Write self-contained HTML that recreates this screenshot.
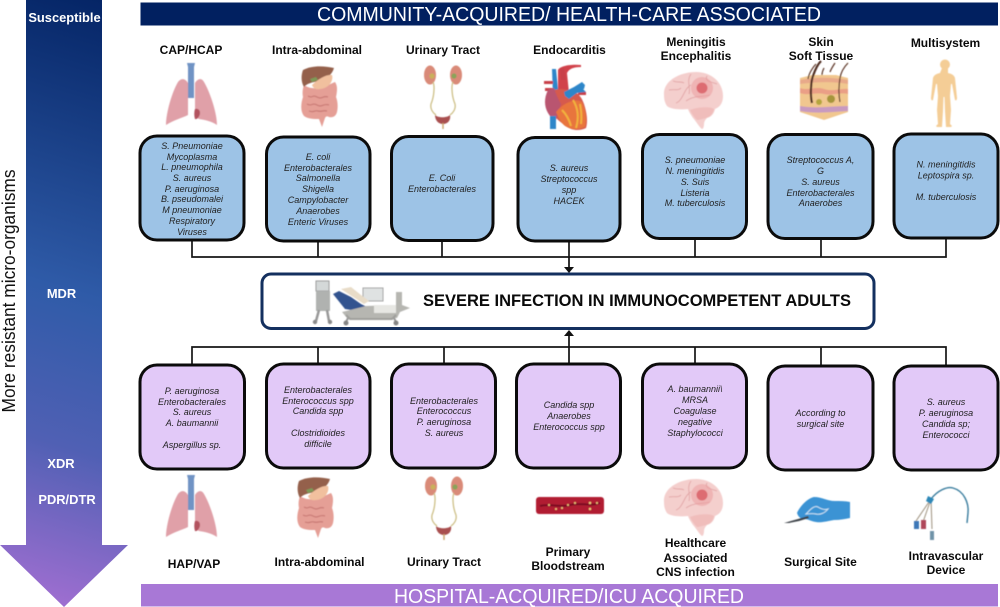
<!DOCTYPE html>
<html><head><meta charset="utf-8"><style>
html,body{margin:0;padding:0;background:#fff;width:1000px;height:607px;overflow:hidden}
svg{display:block}
text{font-family:"Liberation Sans",sans-serif;text-anchor:middle}
.b{font-weight:bold;font-size:12px;fill:#0a0a0a}
.l{font-weight:bold;font-size:12.9px;fill:#fff}
.i{font-style:italic;font-size:9px;fill:#222}
.box{stroke:#0b0b0b;stroke-width:3}
.blue{fill:#9dc3e6}.pur{fill:#e2c9f8}
.ln{stroke:#151515;stroke-width:1.7;fill:none}
</style></head><body>
<svg width="1000" height="607" viewBox="0 0 1000 607" xmlns="http://www.w3.org/2000/svg">
<defs>
<linearGradient id="g" gradientUnits="userSpaceOnUse" x1="190" y1="0" x2="10" y2="600">
<stop offset="0" stop-color="#012060"/><stop offset=".5" stop-color="#2f5ba8"/><stop offset=".74" stop-color="#5060b4"/><stop offset="1" stop-color="#a36fd2"/>
</linearGradient>
<filter id="s" x="-10%" y="-10%" width="120%" height="120%"><feGaussianBlur stdDeviation="0.45"/></filter>
<g id="lungs">
<path d="M-3 -25V-40C-6 -45-10 -45-13 -41C-19 -31-25 -10-25 2C-17 -3-9 -5-3 -8Z" fill="#e0a0a8"/>
<path d="M4 -25V-40C7 -45 11 -45 13 -41C19 -31 26 -10 26 2C20 -2 14 -3 8 -4C4 -6 3 -9 4 -14Z" fill="#e0a0a8"/>
<path d="M-4 -60h8l-1 4v31h-6v-31z" fill="#6f93c4"/>
<path d="M4 -14c3-1 5 1 5 4s-3 7-5 6c-1-3-1-7 0-10z" fill="#b2525f"/>
</g>
<g id="gut">
<path d="M304 85C314 92 326 86 335 82C338 86 337 92 336 97C338 102 338 108 337 112C336 116 333 118 329 117C327 116 326 116 325 118L322 127L319 119C314 119 308 119 304 116C300 111 301 103 303 97C302 92 303 88 304 85Z" fill="#e59f96"/>
<path d="M308 96c5 3 4-2 9 1s6-2 11 0M307 104c5 3 5-2 10 1s6-2 12 0M309 111c5 2 5-1 9 0s5-1 9 0" stroke="#c97a75" fill="none" stroke-width="1.200"/>
<path d="M303 70C312 65 325 66 334 68C332 75 326 79 320 81C312 82 306 84 304 87C301 82 301 75 303 70Z" fill="#94604c"/>
<path d="M312 85C318 79 327 74 332 75C334 82 327 89 320 89C316 90 313 88 312 85Z" fill="#f1c09e"/>
<path d="M310 79l6-2 2 3-6 2z" fill="#7d9a58"/>
</g>
<g id="kid">
<ellipse cx="-13" cy="-40" rx="6" ry="9.500" fill="#d98a78"/><ellipse cx="13" cy="-40" rx="6" ry="9.500" fill="#d98a78"/>
<circle cx="-11" cy="-39" r="2.600" fill="#c9b15c"/><circle cx="11" cy="-39" r="2.600" fill="#8aa35a"/>
<path d="M-10 -33c2 4 1 15-2 22-1 5 2 9 5 11M10 -33c-2 4-1 15 2 22 1 5-2 9-5 11" fill="none" stroke="#cdbf86" stroke-width="1.300"/>
<path d="M-8 0c3 3 12 3 15 0 1 5-2 9-7 9s-8-4-8-9z" fill="#a9504f"/><rect x="-.7" y="8" width="1.400" height="6" fill="#c9a36a"/>
</g>
<g id="brain">
<path d="M-29 -7C-30 -22-12 -30 3 -30c15 0 27 10 27 24 0 7-3 11-8 13-1 5-4 8-8 9-2 2-3 4-3 6 0 3-1 5-2 5-3-2-6-8-9-11-2-3-4-6-5-9-8 1-18 0-21-3-2-3-3-6-3-11z" fill="#f4cfcd"/>
<path d="M-17 1c7-2 8-15 15-18M-7 -1c8-6 18-4 24-6M-2 -28c-5 7 0 14-2 20M-24 -12c6-1 9 1 12-2M-20 -21c5 2 8 0 11 2M14 -26c-3 5 4 6 10 8" stroke="#e2a5a6" fill="none" stroke-width=".9"/>
<path d="M-3 8c7-3 20-4 24-1-1 5-4 8-8 9-4 1-7 2-9 2-3-3-5-6-7-10z" fill="#f0bdbb"/>
<circle cx="9" cy="-14" r="11" fill="#ea9a9c" opacity=".5"/><circle cx="9" cy="-14" r="5.500" fill="#d7545c" opacity=".75"/>
</g>
</defs>

<!-- resistance arrow -->
<path d="M26 0H102V545H128L64 607L0 545H26Z" fill="url(#g)"/>
<text class="l" x="64.500" y="22">Susceptible</text>
<text class="l" x="61.500" y="298">MDR</text>
<text class="l" x="61" y="468">XDR</text>
<text class="l" x="67" y="504">PDR/DTR</text>
<text transform="translate(15,291) rotate(-90)" font-size="18" fill="#111" textLength="243" lengthAdjust="spacingAndGlyphs">More resistant micro-organisms</text>

<!-- banners -->
<rect x="140.500" y="2.500" width="857.500" height="23" fill="#012060"/>
<text x="569" y="21" font-size="20" fill="#fff" textLength="504" lengthAdjust="spacingAndGlyphs">COMMUNITY-ACQUIRED/ HEALTH-CARE ASSOCIATED</text>
<rect x="141" y="584" width="857" height="22.500" fill="#a878d6"/>
<text x="569" y="603" font-size="20" fill="#fff" textLength="350" lengthAdjust="spacingAndGlyphs">HOSPITAL-ACQUIRED/ICU ACQUIRED</text>

<!-- connectors top -->
<path class="ln" d="M192 241V257H946V239M318 241V257M442 241V257M569 241V257M695 239V257M821 239V257"/>
<path d="M569 257V268" stroke="#111" stroke-width="1.700"/><path d="M564 267h10l-5 6z" fill="#111"/>
<!-- connectors bottom -->
<path class="ln" d="M192 364V347H946V366M318 364V347M444 364V347M695 364V347M821 366V347"/>
<path d="M569 363V335" stroke="#111" stroke-width="1.700"/><path d="M564 336h10l-5 -6z" fill="#111"/>

<!-- centre box -->
<rect x="262" y="274" width="612" height="54.500" rx="9" fill="#fff" stroke="#14305f" stroke-width="3"/>
<text x="637" y="306" font-size="16.500" font-weight="bold" fill="#0a0a0a" textLength="428" lengthAdjust="spacingAndGlyphs">SEVERE INFECTION IN IMMUNOCOMPETENT ADULTS</text>
<!-- ICU bed -->
<g filter="url(#s)">
<rect x="316" y="281" width="13" height="10" fill="#d4d8d8" stroke="#9a9a9a" stroke-width="1"/>
<rect x="316" y="291" width="14" height="20" fill="#b0b2b0"/>
<path d="M319 310l-3 11M327 310l2 11" stroke="#999" stroke-width="2.500"/>
<circle cx="315" cy="322" r="2.200" fill="#8b8b8b"/><circle cx="330" cy="322" r="2.200" fill="#8b8b8b"/>
<rect x="363" y="288" width="20" height="13" fill="#dfe2e2" stroke="#a5a5a5"/>
<path d="M333 294l6-3 12 6 10 7 6 3-10 4-12-2z" fill="#33538f"/>
<path d="M341 289l10-2 10 8 8 6-5 3-14-9z" fill="#e8dcc8"/>
<path d="M342 312l24-6 30-1v-13h6v13l8 3-10 4-3 6h-50z" fill="#b6b6b1"/>
<rect x="374" y="305" width="22" height="8" fill="#e7e7e3"/>
<path d="M346 315l4 4h42l4-4" stroke="#9f9f9b" stroke-width="2" fill="none"/>
<path d="M348 318l-2 4M394 318l2 4" stroke="#999" stroke-width="2"/>
<circle cx="346" cy="323" r="2.500" fill="#858585"/><circle cx="396" cy="323" r="2.500" fill="#858585"/>
</g>

<!-- top boxes -->
<g class="box blue">
<rect x="140" y="136" width="104" height="104" rx="17"/>
<rect x="266.500" y="137" width="103.500" height="104" rx="17"/>
<rect x="391.500" y="136.500" width="101.500" height="104" rx="17"/>
<rect x="518" y="137.500" width="102" height="103.500" rx="17"/>
<rect x="642.500" y="134.500" width="104" height="104" rx="17"/>
<rect x="768" y="134.500" width="105" height="104" rx="17"/>
<rect x="894" y="134" width="104" height="104" rx="17"/>
</g>
<!-- bottom boxes -->
<g class="box pur">
<rect x="140" y="365" width="104.500" height="104" rx="17"/>
<rect x="266.500" y="364" width="103.500" height="104" rx="17"/>
<rect x="391.500" y="364" width="104" height="104" rx="17"/>
<rect x="516.500" y="364" width="104" height="104" rx="17"/>
<rect x="642.500" y="364" width="104" height="104" rx="17"/>
<rect x="768" y="366" width="105" height="104" rx="17"/>
<rect x="894" y="366" width="104" height="104" rx="17"/>
</g>

<!-- top box labels -->
<g class="i">
<text x="192" y="149">S. Pneumoniae</text><text x="192" y="160">Mycoplasma</text><text x="192" y="170">L. pneumophila</text><text x="192" y="181">S. aureus</text><text x="192" y="192">P. aeruginosa</text><text x="192" y="202">B. pseudomalei</text><text x="192" y="213">M pneumoniae</text><text x="192" y="224">Respiratory</text><text x="192" y="235">Viruses</text>
<text x="318" y="160">E. coli</text><text x="318" y="171">Enterobacterales</text><text x="318" y="181">Salmonella</text><text x="318" y="192">Shigella</text><text x="318" y="203">Campylobacter</text><text x="318" y="214">Anaerobes</text><text x="318" y="225">Enteric Viruses</text>
<text x="442" y="181">E. Coli</text><text x="442" y="192">Enterobacterales</text>
<text x="569" y="171">S. aureus</text><text x="569" y="182">Streptococcus</text><text x="569" y="193">spp</text><text x="569" y="204">HACEK</text>
<text x="695" y="163">S. pneumoniae</text><text x="695" y="174">N. meningitidis</text><text x="695" y="185">S. Suis</text><text x="695" y="196">Listeria</text><text x="695" y="206">M. tuberculosis</text>
<text x="820.500" y="163">Streptococcus A,</text><text x="820.500" y="174">G</text><text x="820.500" y="185">S. aureus</text><text x="820.500" y="196">Enterobacterales</text><text x="820.500" y="206">Anaerobes</text>
<text x="946" y="167.500">N. meningitidis</text><text x="946" y="178.500">Leptospira sp.</text><text x="946" y="200">M. tuberculosis</text>
</g>
<!-- bottom box labels -->
<g class="i">
<text x="192" y="394">P. aeruginosa</text><text x="192" y="405">Enterobacterales</text><text x="192" y="415">S. aureus</text><text x="192" y="426">A. baumannii</text><text x="192" y="448">Aspergillus sp.</text>
<text x="318" y="393">Enterobacterales</text><text x="318" y="404">Enterococcus spp</text><text x="318" y="414">Candida spp</text><text x="318" y="436">Clostridioides</text><text x="318" y="447">difficile</text>
<text x="444" y="404">Enterobacterales</text><text x="444" y="414">Enterococcus</text><text x="444" y="425">P. aeruginosa</text><text x="444" y="436">S. aureus</text>
<text x="569" y="408">Candida spp</text><text x="569" y="419">Anaerobes</text><text x="569" y="430">Enterococcus spp</text>
<text x="695" y="392">A. baumannii\</text><text x="695" y="403">MRSA</text><text x="695" y="414">Coagulase</text><text x="695" y="425">negative</text><text x="695" y="436">Staphylococci</text>
<text x="820.500" y="416">According to</text><text x="820.500" y="427">surgical site</text>
<text x="946" y="405">S. aureus</text><text x="946" y="416">P. aeruginosa</text><text x="946" y="427">Candida sp;</text><text x="946" y="438">Enterococci</text>
</g>

<!-- top headings -->
<g class="b">
<text x="191" y="54">CAP/HCAP</text>
<text x="317" y="54">Intra-abdominal</text>
<text x="443" y="54">Urinary Tract</text>
<text x="569.500" y="54">Endocarditis</text>
<text x="696" y="46">Meningitis</text><text x="696" y="60">Encephalitis</text>
<text x="821" y="46">Skin</text><text x="821" y="60">Soft Tissue</text>
<text x="945.500" y="47">Multisystem</text>
</g>
<!-- bottom headings -->
<g class="b">
<text x="194" y="568">HAP/VAP</text>
<text x="319.500" y="566">Intra-abdominal</text>
<text x="444" y="566">Urinary Tract</text>
<text x="568" y="556">Primary</text><text x="568" y="570">Bloodstream</text>
<text x="695.500" y="547">Healthcare</text><text x="695.500" y="562">Associated</text><text x="695.500" y="576">CNS infection</text>
<text x="820.500" y="566">Surgical Site</text>
<text x="946" y="560">Intravascular</text><text x="946" y="574">Device</text>
</g>

<!-- icons -->
<g filter="url(#s)">
<use href="#lungs" transform="translate(191,123)"/>
<use href="#gut"/>
<use href="#kid" transform="translate(443,115)"/>
<use href="#lungs" transform="translate(191,535)"/>
<use href="#gut" transform="translate(-4,411)"/>
<use href="#kid" transform="translate(444,526)"/>
<use href="#brain" transform="translate(693,102)"/>
<use href="#brain" transform="translate(693,509)"/>

<!-- heart -->
<path d="M558 70c2-4 12-6 23-5v2c-8 0-12 2-14 6l2 20-11 2z" fill="#d1434c"/>
<path d="M552 69h4l2 20 1 8h-6z" fill="#2f86c9"/>
<path d="M560 68h4l2 12h-5z" fill="#c8404a"/>
<path d="M544 81h9v3h-9zM545 88h8v3h-8zM578 92h8v3h-8z" fill="#c8404a"/>
<path d="M546 96c4-7 14-8 22-6 10 1 14 8 16 14 3 9 4 18 2 24-6 3-14 3-20-2-8-5-14-12-17-18-2-4-4-8-3-12z" fill="#d65a4e"/>
<path d="M548 90c-4 8-4 16 0 23 3 5 6 8 8 7l5-16c-3-5-5-10-7-16z" fill="#b9546f"/>
<path d="M556 112c8-10 20-14 26-10 4 8 5 18 3 25-7 3-14 3-20-1-4-3-7-9-9-14z" fill="#e8743c"/>
<path d="M573 100c5 8 6 18 3 28M562 110c4 4 7 9 9 16M580 104c1 6 2 12 1 20" stroke="#f2b33d" stroke-width="2" fill="none"/>
<path d="M564 92l10-5 8-5 3 3-1 4h-1l3 3-9 1-8 6-4-3z" fill="#2f86c9"/>
<path d="M550 116h6v13h-6z" fill="#2f86c9"/>

<!-- skin -->
<path d="M800 78l12-3h24l12 3v34l-24 8-24-8z" fill="#f1c78f"/>
<path d="M800 80c16-3 32-3 48 0v4c-16-3-32-2-48 0z" fill="#e8a98a"/>
<path d="M800 88c8 3 16-2 24 1s16-1 24 0v5c-8-2-16 2-24 0s-16 2-24-1z" fill="#ea9f86"/>
<path d="M800 106c16 3 32 0 48 0v5c-16 1-32 3-48 0z" fill="#c89ac0"/>
<path d="M812 103c-2-8-1-22 1-27 2-6 4-11 8-15" stroke="#4f2d20" stroke-width="2.200" fill="none"/>
<path d="M840 102c-2-10-1-18 0-24 1-6 4-11 8-15M808 79c1-6 5-12 8-15M830 72c1-3 3-6 5-9M822 75c0-3 1-5 2-7" stroke="#5b3526" stroke-width="1.200" fill="none"/>
<circle cx="819" cy="102" r="3" fill="#b5a53d"/><circle cx="831" cy="99" r="4" fill="#a6953a"/>

<!-- person -->
<circle cx="945" cy="64.500" r="5" fill="#f4cd96"/>
<path d="M942 68h6v5c4 1 6 2 7 5l2 20c0 2-1 3-2 2l-3-16h-1l-1 12 1 14-1 14 2 2-1 1h-5l-1-16-.5-14h-1l-.5 14-1 16h-5l-1-1 2-2-1-14 1-14-1-12h-1l-3 16c-1 1-2 0-2-2l2-20c1-3 3-4 7-5z" fill="#f4cd96"/>

<!-- blood vessel -->
<rect x="536" y="497" width="68" height="17" rx="3" fill="#b11e33"/>
<path d="M540 506c10-3 20 2 30-1s20 2 30-2" stroke="#7d1022" stroke-width="2" fill="none"/>
<g fill="#f0cd7e"><circle cx="549" cy="505" r="1"/><circle cx="556" cy="509" r="1"/><circle cx="568" cy="505" r="1"/><circle cx="575" cy="503" r="1"/><circle cx="590" cy="503" r="1.200"/><circle cx="590" cy="509" r="1.200"/><circle cx="597" cy="503" r="1"/><circle cx="562" cy="508" r="1"/></g>

<!-- surgical hand -->
<path d="M797 513c3-7 11-15 17-16 8 0 13 4 21 4 5 0 10 0 15 1v16c-5 1-10 2-16 2-7 1-12 3-18 2-6-1-8-3-12-3-4 0-6-3-7-6z" fill="#3a93d4"/>
<path d="M806 514c4-4 8-9 12-7 3 2 7 3 10 2-3 4-8 6-12 5-4-1-7 0-10 0z" fill="none" stroke="#cde4f4" stroke-width="1"/>
<path d="M784 523l14-4 10-3 1 2-10 3-10 2z" fill="#3c4248"/>

<!-- catheter -->
<path d="M931 499c6-8 16-13 22-11 11 3 16 15 15 25l-1 10" stroke="#3a7d9e" stroke-width="1.400" fill="none"/>
<path d="M931 499l-15 22M931 499l-8 23M931 499l1 30" stroke="#a59a88" stroke-width="1.100" fill="none"/>
<path d="M928 496l6 3-3 5-5-3z" fill="#2f88b8"/>
<rect x="914" y="521" width="5" height="8" fill="#3d78b8"/><rect x="921" y="520" width="5" height="9" fill="#b0465a"/><rect x="930" y="531" width="4" height="9" fill="#6f93a8"/>
</g>
</svg>
</body></html>
